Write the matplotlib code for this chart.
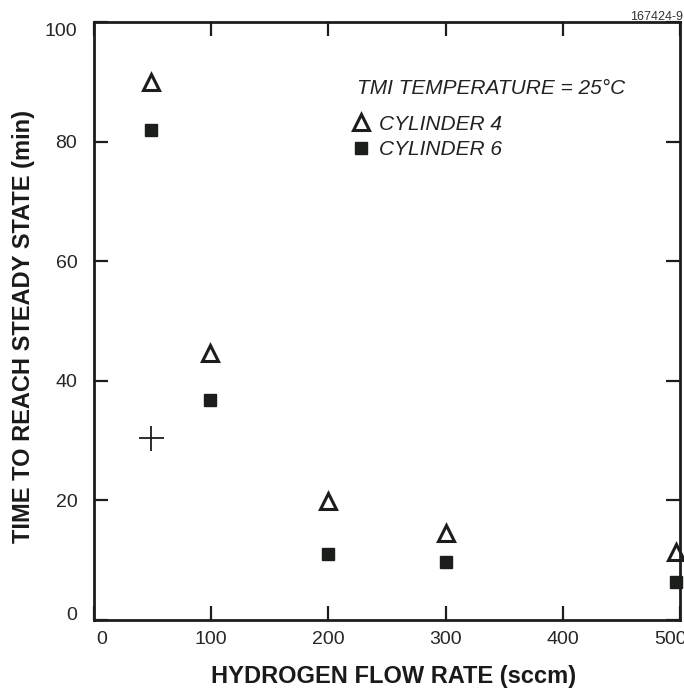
import matplotlib
matplotlib.use("Agg")
import matplotlib.pyplot as plt
from matplotlib.transforms import ScaledTranslation

plt.rcParams['font.family'] = ['Liberation Sans', 'DejaVu Sans']

flow_rate = [49, 99, 200, 300, 497]
cyl4 = [89.9, 44.7, 19.9, 14.6, 11.3]
cyl6 = [82.0, 36.8, 11.0, 9.7, 6.3]
extra_x = [49]
extra_y = [30.5]
xticks = [0, 100, 200, 300, 400, 500]
yticks = [0, 20, 40, 60, 80, 100]

ink = '#1b1e1b'
fig = plt.figure(figsize=(6.84, 6.96), dpi=100)
ax = fig.add_axes([94 / 684, 76 / 696, 586 / 684, 598 / 696])

ax.plot(flow_rate, cyl4, linestyle='none', marker='^', markersize=12,
        markerfacecolor='white', markeredgecolor=ink, markeredgewidth=2.2,
        label='CYLINDER 4', clip_on=False)
ax.plot(flow_rate, cyl6, linestyle='none', marker='s', markersize=8.5,
        markerfacecolor=ink, markeredgecolor=ink, label='CYLINDER 6', clip_on=False)
ax.plot(extra_x, extra_y, linestyle='none', marker='+', markersize=18,
        markeredgewidth=1.3, color=ink, clip_on=False)

ax.set_xlim(0, 500)
ax.set_ylim(0, 100)
ax.set_xticks(xticks)
ax.set_yticks(yticks)
ax.tick_params(direction='in', length=10, width=1.6, color=ink,
               top=True, right=True, labelsize=14, labelcolor='#262626')
ax.tick_params(axis='y', pad=12)
ax.tick_params(axis='x', pad=8)
for s in ax.spines.values():
    s.set_linewidth(2)
    s.set_color(ink)

ax.set_xlabel('HYDROGEN FLOW RATE (sccm)', fontsize=17, fontweight='bold',
              color='#1a1a1a', va='center')
ax.xaxis.set_label_coords(0.511, -0.094)
ax.set_ylabel('TIME TO REACH STEADY STATE (min)', fontsize=17, fontweight='bold',
              color='#1a1a1a', va='center')
ax.yaxis.set_label_coords(-0.12, 0.49)

ax.text(0.4484, 0.8896, 'TMI TEMPERATURE = 25°C', transform=ax.transAxes,
        fontsize=15, fontstyle='italic', color='#222222', ha='left', va='center')
leg = ax.legend(loc='upper left', bbox_to_anchor=(0.4406, 0.845), frameon=False,
                handlelength=0.8, handletextpad=0.48, borderpad=0, borderaxespad=0,
                labelspacing=0.3, prop={'style': 'italic', 'size': 15})
for t in leg.get_texts():
    t.set_color('#222222')

fig.text(0.999, 0.976, '167424-9', fontsize=9, ha='right', va='center', color='#333333')

# nudge end tick labels like the original typesetting
dpi_t = fig.dpi_scale_trans
yt = ax.yaxis.get_major_ticks()
yt[-1].label1.set_transform(yt[-1].label1.get_transform() + ScaledTranslation(0, -7 / 100, dpi_t))
yt[0].label1.set_transform(yt[0].label1.get_transform() + ScaledTranslation(0, 6 / 100, dpi_t))
xt = ax.xaxis.get_major_ticks()
xt[0].label1.set_transform(xt[0].label1.get_transform() + ScaledTranslation(8 / 100, 0, dpi_t))
xt[-1].label1.set_transform(xt[-1].label1.get_transform() + ScaledTranslation(-9 / 100, 0, dpi_t))

fig.savefig('out.png', dpi=100)
